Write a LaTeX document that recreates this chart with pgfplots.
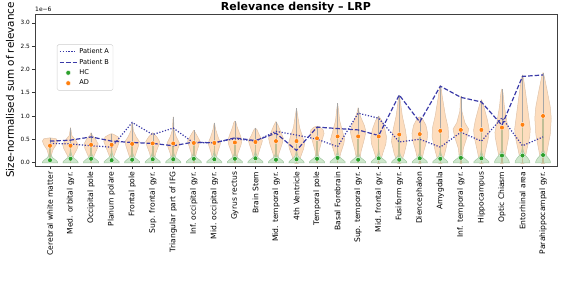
\documentclass[border=0pt]{standalone}
\usepackage{fontspec}
\setmainfont{DejaVu Sans}
\usepackage{pgfplots}
\usepackage{pgfplotstable}
\pgfplotsset{compat=1.18}

\definecolor{hcdot}{RGB}{44,160,44}
\definecolor{addot}{RGB}{255,127,14}
\definecolor{adfill}{RGB}{253,221,190}
\definecolor{adedge}{RGB}{224,196,170}
\definecolor{hcfill}{RGB}{206,231,204}
\definecolor{hcedge}{RGB}{164,200,164}
\definecolor{patline}{RGB}{58,58,168}
\definecolor{barcol}{RGB}{192,190,150}

% x, AD median, HC median, AD top, Patient A, Patient B
\pgfplotstableread{
x adMed hcMed adTop pA pB
0  0.36 0.05 0.53 0.41 0.46
1  0.36 0.08 0.75 0.40 0.48
2  0.38 0.08 0.64 0.36 0.55
3  0.38 0.05 0.62 0.33 0.46
4  0.40 0.06 0.84 0.86 0.43
5  0.41 0.07 0.64 0.60 0.41
6  0.41 0.07 0.98 0.74 0.36
7  0.42 0.08 0.69 0.42 0.44
8  0.42 0.07 0.85 0.43 0.42
9  0.43 0.08 0.89 0.51 0.53
10 0.44 0.09 0.74 0.46 0.47
11 0.46 0.06 0.88 0.67 0.63
12 0.46 0.07 1.17 0.59 0.26
13 0.52 0.08 0.78 0.50 0.76
14 0.56 0.10 1.27 0.34 0.73
15 0.56 0.06 1.18 1.06 0.70
16 0.56 0.09 1.00 0.95 0.58
17 0.60 0.06 1.45 0.44 1.45
18 0.61 0.09 0.98 0.50 0.87
19 0.68 0.08 1.65 0.33 1.64
20 0.70 0.10 1.42 0.65 1.40
21 0.70 0.09 1.35 0.46 1.30
22 0.75 0.15 1.58 0.96 0.80
23 0.81 0.15 1.88 0.36 1.85
24 1.00 0.16 1.93 0.55 1.88
}\datatable

% violin half-profiles: half-width (category units)  y
\newcommand{\violin}[4]{%
 \addplot[fill=#2, draw=none, forget plot] table[row sep=\\, x expr=#1+\thisrowno{0}, y index=1] {#4};
 \addplot[fill=#2, draw=none, forget plot] table[row sep=\\, x expr=#1-\thisrowno{0}, y index=1] {#4};
 \addplot[draw=#3, line width=0.5pt, forget plot] table[row sep=\\, x expr=#1+\thisrowno{0}, y index=1] {#4};
 \addplot[draw=#3, line width=0.5pt, forget plot] table[row sep=\\, x expr=#1-\thisrowno{0}, y index=1] {#4};
}
\newcommand{\hcA}[1]{\violin{#1}{hcfill}{hcedge}{0 -0.01\\ 0.37 -0.01\\ 0.36 0.02\\ 0.26 0.06\\ 0.14 0.10\\ 0.07 0.14\\ 0.03 0.20\\ 0 0.30\\}}
\newcommand{\hcB}[1]{\violin{#1}{hcfill}{hcedge}{0 -0.01\\ 0.36 -0.01\\ 0.35 0.03\\ 0.27 0.09\\ 0.15 0.15\\ 0.08 0.20\\ 0.03 0.27\\ 0 0.38\\}}

\begin{document}
\begin{tikzpicture}
\useasboundingbox (-35pt,-118pt) rectangle (533pt,166pt);
\begin{axis}[
  at={(0,0)}, anchor=south west,
  scale only axis, width=522pt, height=152pt,
  xmin=-0.73, xmax=24.68, ymin=-0.075, ymax=3.19,
  xtick={0,...,24},
  xticklabels={Cerebral white matter, Med. orbital gyr., Occipital pole, Planum polare, Frontal pole, Sup. frontal gyr., Triangular part of IFG, Inf. occipital gyr., Mid. occipital gyr., Gyrus rectus, Brain Stem, Mid. temporal gyr., 4th Ventricle, Temporal pole, Basal Forebrain, Sup. temporal gyr., Mid. frontal gyr., Fusiform gyr., Diencephalon, Amygdala, Inf. temporal gyr., Hippocampus, Optic Chiasm, Entorhinal area, Parahippocampal gyr.},
  xticklabel style={rotate=90, anchor=east, font=\fontsize{7.6}{8.5}\selectfont, inner sep=2.5pt},
  ytick={0,0.5,1,1.5,2,2.5,3},
  yticklabel style={font=\fontsize{5.8}{6.5}\selectfont, inner sep=2pt, /pgf/number format/fixed, /pgf/number format/fixed zerofill, /pgf/number format/precision=1},
  /pgf/number format/assume math mode=true,
  scaled y ticks=false,
  tick align=outside, tick pos=left,
  major tick length=3pt,
  tick style={black!80, line width=0.5pt},
  axis line style={black!75, line width=0.8pt},
  ylabel={Size-normalised sum of relevance},
  ylabel style={at={(axis description cs:-0.04,0.5)}, anchor=south, inner sep=0pt, font=\fontsize{10.4}{11}\selectfont},
  legend style={at={(0.042,0.80)}, anchor=north west, font=\fontsize{6.6}{7.5}\selectfont, draw=black!20, rounded corners=1.5pt, row sep=0pt, inner sep=2pt, fill=white},
  legend cell align=left,
  clip=false,
]
% AD violins
\violin{0}{adfill}{adedge}{0 0.0\\ 0.04 0.0\\ 0.06 0.15\\ 0.15 0.28\\ 0.30 0.38\\ 0.37 0.46\\ 0.30 0.51\\ 0 0.53\\}
\violin{1}{adfill}{adedge}{0 0.0\\ 0.05 0.0\\ 0.15 0.15\\ 0.33 0.30\\ 0.38 0.38\\ 0.25 0.48\\ 0.06 0.58\\ 0.02 0.70\\ 0 0.75\\}
\violin{2}{adfill}{adedge}{0 0.0\\ 0.05 0.0\\ 0.15 0.15\\ 0.30 0.30\\ 0.34 0.40\\ 0.22 0.50\\ 0.06 0.58\\ 0 0.64\\}
\violin{3}{adfill}{adedge}{0 0.0\\ 0.05 0.0\\ 0.12 0.15\\ 0.25 0.30\\ 0.38 0.45\\ 0.32 0.55\\ 0.12 0.60\\ 0 0.62\\}
\violin{4}{adfill}{adedge}{0 0.0\\ 0.05 0.0\\ 0.15 0.15\\ 0.30 0.35\\ 0.35 0.45\\ 0.20 0.55\\ 0.06 0.68\\ 0.03 0.80\\ 0 0.84\\}
\violin{5}{adfill}{adedge}{0 0.0\\ 0.05 0.0\\ 0.15 0.20\\ 0.30 0.38\\ 0.34 0.45\\ 0.20 0.55\\ 0.05 0.62\\ 0 0.64\\}
\violin{6}{adfill}{adedge}{0 0.0\\ 0.05 0.0\\ 0.15 0.20\\ 0.28 0.36\\ 0.30 0.42\\ 0.15 0.55\\ 0.04 0.70\\ 0.02 0.90\\ 0 0.98\\}
\violin{7}{adfill}{adedge}{0 0.0\\ 0.05 0.0\\ 0.12 0.20\\ 0.25 0.38\\ 0.30 0.46\\ 0.18 0.56\\ 0.05 0.66\\ 0 0.69\\}
\violin{8}{adfill}{adedge}{0 0.0\\ 0.05 0.0\\ 0.15 0.20\\ 0.28 0.38\\ 0.30 0.42\\ 0.18 0.55\\ 0.06 0.72\\ 0.02 0.82\\ 0 0.85\\}
\violin{9}{adfill}{adedge}{0 0.0\\ 0.05 0.0\\ 0.15 0.20\\ 0.30 0.38\\ 0.34 0.48\\ 0.25 0.60\\ 0.12 0.75\\ 0.05 0.86\\ 0 0.89\\}
\violin{10}{adfill}{adedge}{0 0.0\\ 0.05 0.0\\ 0.15 0.20\\ 0.30 0.40\\ 0.34 0.47\\ 0.20 0.58\\ 0.08 0.70\\ 0 0.74\\}
\violin{11}{adfill}{adedge}{0 0.0\\ 0.05 0.0\\ 0.15 0.20\\ 0.30 0.40\\ 0.36 0.52\\ 0.25 0.64\\ 0.10 0.80\\ 0 0.88\\}
\violin{12}{adfill}{adedge}{0 -0.02\\ 0.08 -0.02\\ 0.20 0.12\\ 0.35 0.30\\ 0.39 0.40\\ 0.30 0.55\\ 0.15 0.75\\ 0.06 1.00\\ 0 1.17\\}
\violin{13}{adfill}{adedge}{0 0.0\\ 0.04 0.0\\ 0.10 0.25\\ 0.22 0.45\\ 0.34 0.62\\ 0.30 0.70\\ 0.15 0.76\\ 0 0.78\\}
\violin{14}{adfill}{adedge}{0 0.0\\ 0.05 0.0\\ 0.15 0.20\\ 0.30 0.40\\ 0.34 0.50\\ 0.25 0.65\\ 0.10 0.90\\ 0.04 1.15\\ 0 1.27\\}
\violin{15}{adfill}{adedge}{0 0.0\\ 0.05 0.0\\ 0.15 0.25\\ 0.30 0.50\\ 0.38 0.66\\ 0.30 0.80\\ 0.12 0.98\\ 0.04 1.10\\ 0 1.18\\}
\violin{16}{adfill}{adedge}{0 -0.02\\ 0.06 -0.02\\ 0.20 0.20\\ 0.35 0.40\\ 0.38 0.55\\ 0.30 0.72\\ 0.15 0.90\\ 0 1.00\\}
\violin{17}{adfill}{adedge}{0 -0.02\\ 0.08 -0.02\\ 0.25 0.20\\ 0.38 0.45\\ 0.30 0.70\\ 0.15 1.00\\ 0.06 1.30\\ 0 1.45\\}
\violin{18}{adfill}{adedge}{0 -0.02\\ 0.06 -0.02\\ 0.20 0.25\\ 0.36 0.50\\ 0.38 0.63\\ 0.30 0.80\\ 0.12 0.95\\ 0 0.98\\}
\violin{19}{adfill}{adedge}{0 -0.02\\ 0.08 -0.02\\ 0.25 0.25\\ 0.40 0.55\\ 0.38 0.75\\ 0.25 1.00\\ 0.10 1.40\\ 0.04 1.60\\ 0 1.65\\}
\violin{20}{adfill}{adedge}{0 -0.02\\ 0.05 -0.02\\ 0.12 0.30\\ 0.30 0.55\\ 0.38 0.72\\ 0.20 0.85\\ 0.05 1.10\\ 0.02 1.35\\ 0 1.42\\}
\violin{21}{adfill}{adedge}{0 -0.02\\ 0.08 -0.02\\ 0.20 0.25\\ 0.35 0.55\\ 0.38 0.70\\ 0.30 0.90\\ 0.15 1.15\\ 0.05 1.30\\ 0 1.35\\}
\violin{22}{adfill}{adedge}{0 -0.02\\ 0.07 -0.02\\ 0.20 0.25\\ 0.33 0.55\\ 0.34 0.65\\ 0.25 0.85\\ 0.12 1.20\\ 0.05 1.50\\ 0 1.58\\}
\violin{23}{adfill}{adedge}{0 -0.02\\ 0.08 -0.02\\ 0.20 0.25\\ 0.35 0.55\\ 0.38 0.72\\ 0.30 1.00\\ 0.15 1.50\\ 0.05 1.80\\ 0 1.88\\}
\violin{24}{adfill}{adedge}{0 -0.02\\ 0.08 -0.02\\ 0.20 0.25\\ 0.35 0.60\\ 0.40 0.95\\ 0.35 1.20\\ 0.20 1.55\\ 0.06 1.85\\ 0 1.93\\}
% HC violins
\hcA{0}\hcA{1}\hcA{2}\hcA{3}\hcA{4}\hcA{5}\hcA{6}\hcA{7}\hcA{8}\hcA{9}
\hcA{10}\hcA{11}\hcA{12}\hcA{13}\hcA{14}\hcA{15}\hcA{16}\hcA{17}\hcA{18}\hcA{19}
\hcA{20}\hcA{21}\hcB{22}\hcB{23}\hcB{24}
% central bars
\addplot[ycomb, draw=black!35, line width=0.4pt, forget plot] table[x=x, y=adTop] {\datatable};
\addplot[ycomb, draw=barcol, line width=1.6pt, forget plot] table[x=x, y=adMed] {\datatable};
% patients
\addplot[patline, line width=1.2pt, dash pattern=on 1.2pt off 1.7pt] table[x=x, y=pA] {\datatable};
\addlegendentry{Patient A}
\addplot[patline, line width=1.2pt, dash pattern=on 4.5pt off 2pt] table[x=x, y=pB] {\datatable};
\addlegendentry{Patient B}
% medians
\addplot[only marks, mark=*, mark size=2.4pt, color=hcdot, mark options={draw=white, line width=0.35pt}] table[x=x, y=hcMed] {\datatable};
\addlegendentry{HC}
\addplot[only marks, mark=*, mark size=2.4pt, color=addot, mark options={draw=white, line width=0.35pt}] table[x=x, y=adMed] {\datatable};
\addlegendentry{AD}
\node[anchor=south west, font=\fontsize{6}{7}\selectfont, inner sep=0pt] at (axis description cs:0,1.012) {1e−6};
\node[anchor=base, inner sep=0pt, font=\bfseries\fontsize{11}{12}\selectfont] at (axis description cs:0.5,1.02) {Relevance density – LRP};
\end{axis}
\end{tikzpicture}
\end{document}
